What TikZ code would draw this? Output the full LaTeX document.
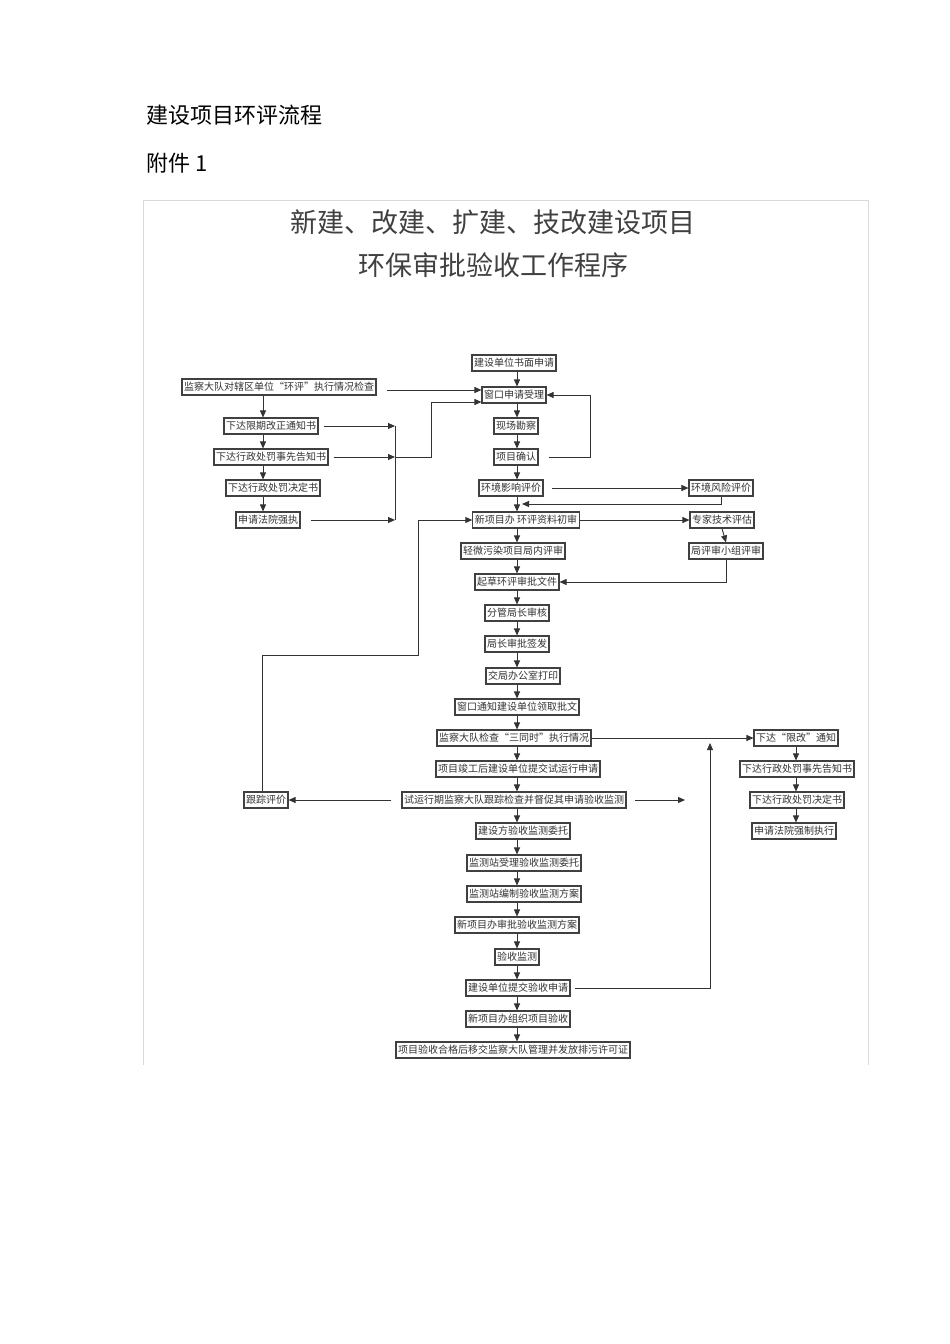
\documentclass[tikz,border=0pt]{standalone}
\usepackage{fontspec}
\setmainfont{Noto Sans CJK SC}
\usetikzlibrary{arrows.meta}
\begin{document}
\begin{tikzpicture}[x=1pt,y=-1pt,
  bx/.style={draw=black!75,line width=1.1pt,fill=white,inner xsep=2pt,inner ysep=1pt,minimum height=16pt,font=\fontsize{10}{12}\selectfont,text=black!80},
  ar/.style={-{Triangle[length=7pt,width=6pt]},line width=0.9pt,black!80},
  ln/.style={line width=0.9pt,black!80}]
\useasboundingbox (0,0) rectangle (950,1344);
\draw[black!15,line width=0.6pt] (143,1065) -- (143,200) -- (868,200) -- (868,1065);
\node[anchor=west,font=\fontsize{22}{26}\selectfont] (h1) at (143,115) {建设项目环评流程};
\node[anchor=west,font=\fontsize{22}{26}\selectfont] (h2) at (143,163) {附件 1};
\node[font=\fontsize{27}{32}\selectfont,text=black!75] (t1) at (493,222) {新建、改建、扩建、技改建设项目};
\node[font=\fontsize{27}{32}\selectfont,text=black!75] (t2) at (493,265) {环保审批验收工作程序};
% main column
\node[bx] (m1) at (514,363) {建设单位书面申请};
\node[bx] (m2) at (514,395) {窗口申请受理};
\node[bx] (m3) at (516,426) {现场勘察};
\node[bx] (m4) at (516,457) {项目确认};
\node[bx] (m5) at (511,488) {环境影响评价};
\node[bx] (m6) at (526,520) {新项目办 环评资料初审};
\node[bx] (m7) at (513,551) {轻微污染项目局内评审};
\node[bx] (m8) at (517,582) {起草环评审批文件};
\node[bx] (m9) at (517,613) {分管局长审核};
\node[bx] (m10) at (517,644) {局长审批签发};
\node[bx] (m11) at (523,676) {交局办公室打印};
\node[bx] (m12) at (517,707) {窗口通知建设单位领取批文};
\node[bx] (m13) at (514,738) {监察大队检查“三同时”执行情况};
\node[bx] (m14) at (518,769) {项目竣工后建设单位提交试运行申请};
\node[bx] (m15) at (514,800) {试运行期监察大队跟踪检查并督促其申请验收监测};
\node[bx] (m16) at (523,831) {建设方验收监测委托};
\node[bx] (m17) at (524,863) {监测站受理验收监测委托};
\node[bx] (m18) at (524,894) {监测站编制验收监测方案};
\node[bx] (m19) at (517,925) {新项目办审批验收监测方案};
\node[bx] (m20) at (517,957) {验收监测};
\node[bx] (m21) at (518,988) {建设单位提交验收申请};
\node[bx] (m22) at (518,1019) {新项目办组织项目验收};
\node[bx] (m23) at (513,1050) {项目验收合格后移交监察大队管理并发放排污许可证};
\foreach \a/\b in {m1/m2,m2/m3,m3/m4,m4/m5,m6/m7,m7/m8,m8/m9,m9/m10,m10/m11,m11/m12,m12/m13,m13/m14,m14/m15,m15/m16,m16/m17,m17/m18,m18/m19,m19/m20,m20/m21,m21/m22,m22/m23}
  \draw[ar] (\a.south -| 517,0) -- (\b.north -| 517,0);
\draw[ar] (m5.south -| 517,0) -- (m6.north -| 517,0);
% left
\node[bx] (l0) at (279,387) {监察大队对辖区单位“环评”执行情况检查};
\node[bx] (l1) at (271,426) {下达限期改正通知书};
\node[bx] (l2) at (271,457) {下达行政处罚事先告知书};
\node[bx] (l3) at (273,488) {下达行政处罚决定书};
\node[bx] (l4) at (268,520) {申请法院强执};
\node[bx] (tr) at (266,800) {跟踪评价};
\foreach \a/\b in {l0/l1,l1/l2,l2/l3,l3/l4} \draw[ar] (\a.south -| 263,0) -- (\b.north -| 263,0);
\draw[ar] (l0.east) ++(10,3) -- (m2.west |- 0,390);
\coordinate (bus) at (395,426);
\draw[ar] (l1.east) ++(5,0) -- (395,426);
\draw[ar] (l2.east) ++(5,0) -- (395,457);
\draw[ar] (l4.east) ++(10,0) -- (395,520);
\draw[ln] (395,426) -- (395,520);
\draw[ar] (395,457) -- (431,457) -- (431,402) -- (m2.west |- 0,402);
\draw[ar] (m4.east) ++(10,0) -- (590,457) -- (590,395) -- (m2.east);
% right
\node[bx] (r1) at (721,488) {环境风险评价};
\node[bx] (r2) at (722,520) {专家技术评估};
\node[bx] (r3) at (726,551) {局评审小组评审};
\draw[ar] (m5.east) ++(8,0) -- (r1.west);
\draw[ar] (r1.south) -- (721,504) -- (522,504);
\draw[ar] (m6.east) -- (r2.west);
\draw[ar] (r2.south) -- (r3.north);
\draw[ar] (r3.south) -- (726,582) -- (m8.east);
\draw[ar] (tr.north -| 262,0) -- (262,655) -- (418,655) -- (418,520) -- (m6.west);
\draw[ar] (m15.west) ++(-10,0) -- (tr.east);
\coordinate (fr) at (685,800);
\draw[ar] (m15.east) ++(8,0) -- (fr);
\node[bx] (q1) at (796,738) {下达“限改”通知};
\node[bx] (q2) at (797,769) {下达行政处罚事先告知书};
\node[bx] (q3) at (797,800) {下达行政处罚决定书};
\node[bx] (q4) at (794,831) {申请法院强制执行};
\foreach \a/\b in {q1/q2,q2/q3,q3/q4} \draw[ar] (\a.south -| 796,0) -- (\b.north -| 796,0);
\draw[ar] (m13.east) -- (q1.west);
\draw[ar] (m21.east) ++(4,0) -- (710,988) -- (710,743);
\end{tikzpicture}
\end{document}
